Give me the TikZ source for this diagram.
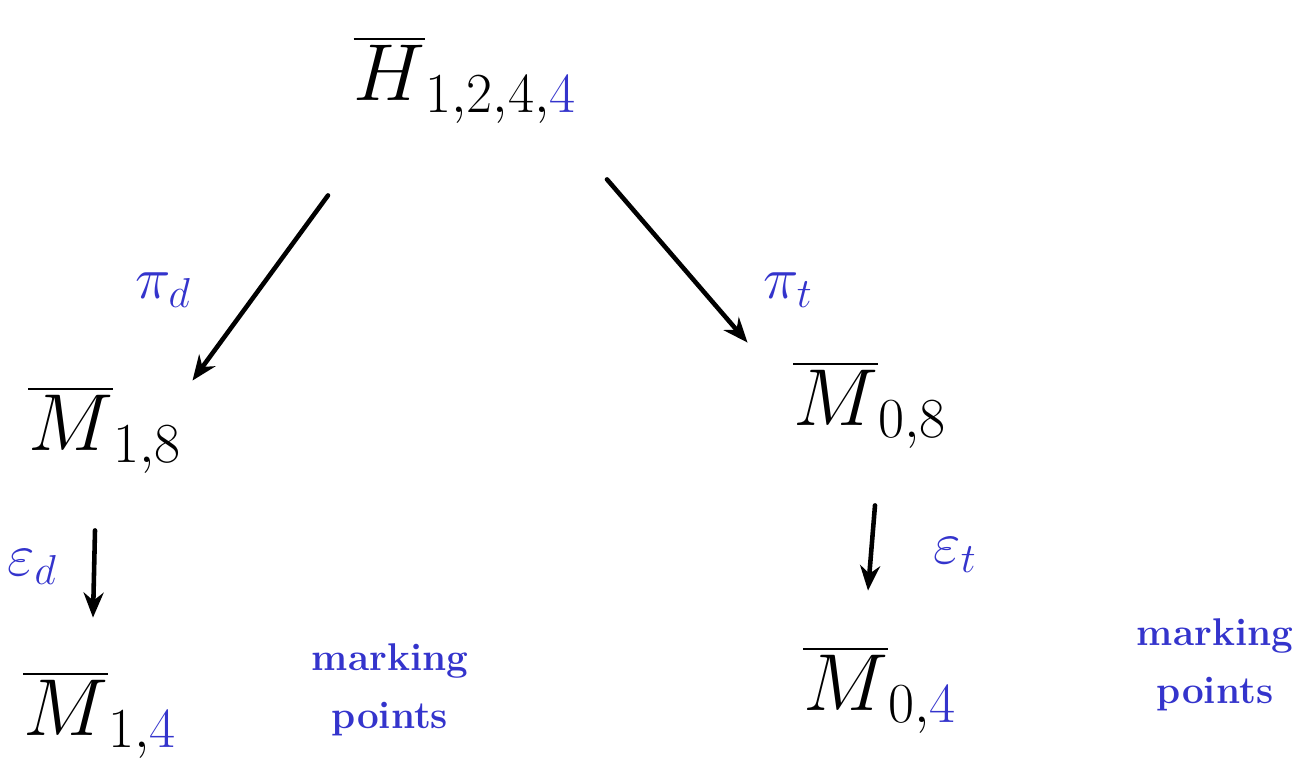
\documentclass[tikz,border=0pt]{standalone}
\usepackage{fix-cm}
\usepackage{amsmath}
\usetikzlibrary{arrows.meta,positioning}
\definecolor{markcolor}{RGB}{52,52,204}
\tikzset{
  space node/.style={inner sep=2pt, font=\fontsize{46}{54}\selectfont},
  map label/.style={text=markcolor, font=\fontsize{34}{40}\selectfont},
  note text/.style={text=markcolor, align=center,
      font=\fontsize{22}{33}\selectfont\bfseries},
  map arrow/.style={
      line width=2.6pt, line cap=round,
        -{Stealth[length=5mm,width=4mm]}
    }
}

\begin{document}
\begin{tikzpicture}

  \useasboundingbox (0,0) rectangle (26.16,15.3);

  % ------------------------------------------------------------------
  % Top space and its two forgetful maps.
  % ------------------------------------------------------------------
  \node[space node] (Hbar) at (9.3,13.7)
  {$\overline{H}_{1,2,4,\textcolor{markcolor}{4}}$};

  \node[space node] (Mdeg) at (2.1,6.7) {$\overline{M}_{1,8}$};
  \node[space node] (Mtri) at (17.4,7.2) {$\overline{M}_{0,8}$};

  \draw[map arrow] ([xshift=-2.74cm,yshift=-1.36cm]Hbar.south)
  -- ([xshift=0.14cm,yshift=0.04cm]Mdeg.north east);
  \draw[map arrow] ([xshift=2.84cm,yshift=-1.04cm]Hbar.south)
  -- ([xshift=-0.84cm,yshift=0.3cm]Mtri.north west);

  \node[map label] (pid) at (3.26,9.5) {$\pi_d$};
  \node[map label] (pit) at (15.76,9.5) {$\pi_t$};

  % ------------------------------------------------------------------
  % Forgetting the marked points.
  % ------------------------------------------------------------------
  \node[space node] (Mdeg4) at (2.0,1.0)
  {$\overline{M}_{1,\textcolor{markcolor}{4}}$};
  \node[space node] (Mtri4) at (17.6,1.5)
  {$\overline{M}_{0,\textcolor{markcolor}{4}}$};

  \draw[map arrow] ([xshift=-0.2cm,yshift=-1.06cm]Mdeg.south)
  -- ([xshift=-0.14cm,yshift=1.0cm]Mdeg4.north);
  \draw[map arrow] ([xshift=0.1cm,yshift=-1.06cm]Mtri.south)
  -- ([xshift=-0.24cm,yshift=1.04cm]Mtri4.north);

  \node[map label] (epsd) at (0.64,3.96) {$\varepsilon_d$};
  \node[map label] (epst) at (19.1,4.2) {$\varepsilon_t$};

  \node[note text] (markd) at (7.8,1.5) {marking\\points};
  \node[note text] (markt) at (24.3,2.0) {marking\\points};

\end{tikzpicture}
\end{document}
